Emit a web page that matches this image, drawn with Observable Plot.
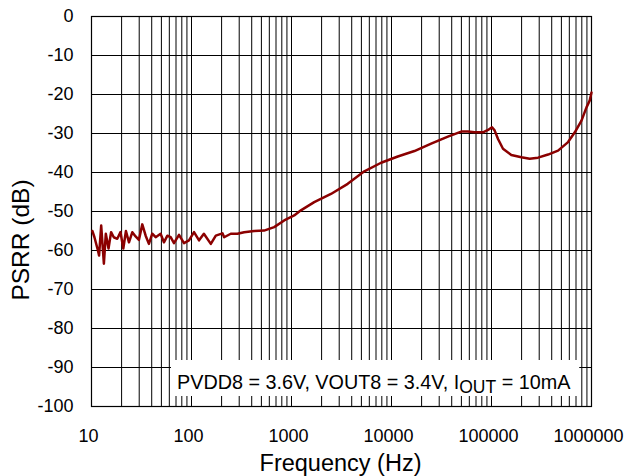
<!DOCTYPE html>
<html><head><meta charset="utf-8">
<script src="https://cdn.jsdelivr.net/npm/d3@7"></script>
<script src="https://cdn.jsdelivr.net/npm/@observablehq/plot@0.6"></script>
<style>body{margin:0;background:#fff}</style>
</head><body><div id="chart"></div>
<script>
const freq = [10.2, 10.7, 11.6, 11.9, 12.5, 13.3, 13.9, 14.8, 15.7, 16.7, 18.1, 19.5, 20.8, 22.1, 23.7, 25.6, 27.6, 29.8, 32.2, 34.8, 37.5, 40.5, 43.8, 49.1, 53, 57.4, 61.9, 66.8, 75, 84.1, 94.4, 106, 119, 133, 156, 175, 204, 212, 247, 288, 336, 423, 532, 671, 845, 1064, 1241, 1687, 2481, 3648, 5350, 7870, 11560, 16950, 24930, 36630, 49800, 58200, 67800, 82200, 92300, 101200, 107400, 116200, 130300, 157800, 199000, 241000, 292000, 368000, 463000, 583000, 681000, 794000, 891000, 961000, 1000000];
const psrr = [-55.0, -56.6, -60, -61.3, -53.6, -63.4, -55.7, -59.5, -55.3, -56.6, -57, -55.3, -59.5, -55, -57.9, -55.3, -56.4, -57.3, -53.3, -56.2, -58.3, -55.7, -56.6, -55.7, -57.9, -56.2, -56.6, -58.1, -56, -58.1, -57.4, -55.3, -57.4, -55.7, -58.3, -56.2, -55.6, -56.6, -55.7, -55.7, -55.3, -55, -54.9, -54, -52.3, -51, -49.7, -47.6, -45.5, -42.9, -39.7, -37.5, -35.9, -34.5, -32.6, -30.8, -29.5, -29.5, -29.7, -29.7, -29.1, -28.4, -29.2, -31.4, -33.9, -35.5, -36.1, -36.5, -36.2, -35.4, -34.4, -32.2, -29.7, -26.7, -23.3, -21.5, -19.5];
const xTicks = [10, 100, 1000, 10000, 100000, 1000000];
const yTicks = [0, -10, -20, -30, -40, -50, -60, -70, -80, -90, -100];
const xLabel = "Frequency (Hz)";
const yLabel = "PSRR (dB)";
const note = ["PVDD8 = 3.6V, VOUT8 = 3.4V, I", "OUT", " = 10mA"];

const data = freq.map((f, i) => ({f, v: psrr[i]}));
const minorTicks = d3.scaleLog().domain([xTicks[0], xTicks[xTicks.length - 1]]).ticks();
const font = "'Liberation Sans', Arial, Helvetica, sans-serif";

const chart = Plot.plot({
  width: 628, height: 476,
  marginLeft: 91, marginRight: 37, marginTop: 16, marginBottom: 70,
  style: {fontFamily: font, fontSize: "18px", color: "black", background: "white"},
  x: {type: "log", domain: [xTicks[0], xTicks[xTicks.length - 1]]},
  y: {domain: [yTicks[yTicks.length - 1], yTicks[0]]},
  marks: [
    Plot.ruleX(minorTicks, {stroke: "black", strokeWidth: 1}),
    Plot.ruleY(yTicks, {stroke: "black", strokeWidth: 1}),
    Plot.frame({stroke: "black", strokeWidth: 1.2}),
    Plot.axisX({ticks: xTicks, tickFormat: d => String(d), tickSize: 0, tickPadding: 23, dx: -3, label: null, fontSize: 18}),
    Plot.axisY({ticks: yTicks, tickFormat: d => String(d), tickSize: 0, tickPadding: 18, label: null, fontSize: 18}),
    Plot.line(data, {x: "f", y: "v", stroke: "#8b0000", strokeWidth: 2.5}),
    Plot.text([xLabel], {text: d => d, frameAnchor: "bottom", dy: 64, dx: -1, lineAnchor: "bottom", fontSize: 23.5})
  ]
});

document.getElementById("chart").append(chart);

const frameLeft = chart.scale("x").range[0];
const frameBottom = chart.scale("y").range[0];
const frameTop = chart.scale("y").range[1];
const svg = d3.select(chart);

// y-axis title
svg.append("text")
  .attr("transform", `translate(${frameLeft - 71},${(frameTop + frameBottom) / 2 + 29}) rotate(-90)`)
  .attr("text-anchor", "middle").attr("dy", "0.35em")
  .attr("font-family", font).attr("font-size", 24.5).attr("fill", "black")
  .text(yLabel);

// annotation box
const g = svg.append("g").attr("font-family", font).attr("font-size", 19.8).attr("fill", "black");
const t = g.append("text").attr("text-anchor", "start").attr("x", frameLeft + 86).attr("y", frameBottom - 17);
t.append("tspan").text(note[0]);
t.append("tspan").attr("font-size", 17.5).attr("dy", 4).text(note[1]);
t.append("tspan").attr("dy", -4).text(note[2]);
const bb = t.node().getBBox();
g.insert("rect", "text")
  .attr("x", bb.x - 6).attr("y", frameBottom - 46)
  .attr("width", bb.width + 14).attr("height", 36)
  .attr("fill", "white");
</script>
</body></html>
